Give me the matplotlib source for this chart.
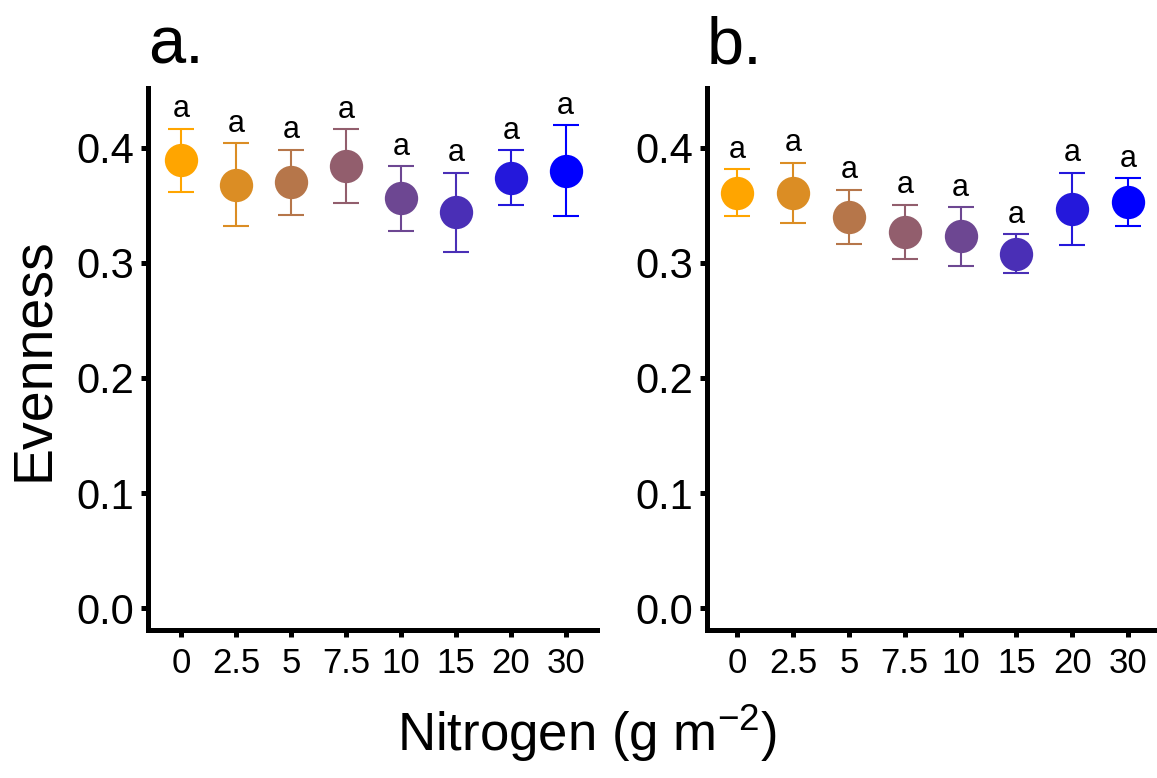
import matplotlib
matplotlib.use("Agg")
import matplotlib.pyplot as plt

plt.rcParams['font.family'] = ['Liberation Sans', 'DejaVu Sans']
plt.rcParams['mathtext.fontset'] = 'custom'
plt.rcParams['mathtext.rm'] = 'Liberation Sans'

# Nitrogen treatments (g m^-2)
nitrogen = ["0", "2.5", "5", "7.5", "10", "15", "20", "30"]
colors = ["#FFA500", "#DB8D24", "#B6764A", "#925E6D", "#6D4792", "#4A2FB6", "#2418DB", "#0000FF"]

# Panel a: mean evenness with error half-widths
mean_a = [0.389, 0.368, 0.370, 0.384, 0.356, 0.344, 0.374, 0.380]
err_a = [0.0275, 0.036, 0.0285, 0.032, 0.028, 0.0345, 0.024, 0.0395]
# Panel b
mean_b = [0.361, 0.361, 0.340, 0.327, 0.323, 0.308, 0.347, 0.353]
err_b = [0.0205, 0.026, 0.0235, 0.0235, 0.0255, 0.017, 0.0315, 0.0205]
# Significance letters
letters_a = ["a"] * 8
letters_b = ["a"] * 8

yticks = [0.0, 0.1, 0.2, 0.3, 0.4]

fig = plt.figure(figsize=(11.57, 7.78), dpi=100)
ax_a = fig.add_axes([0.1279, 0.1902, 0.3881, 0.6967])
ax_b = fig.add_axes([0.6108, 0.1902, 0.3892, 0.6967])


def draw_panel(ax, means, errs, letters, title, xlim):
    xs = list(range(1, len(nitrogen) + 1))
    for x, m, e, c, lab in zip(xs, means, errs, colors, letters):
        _, caps, bars = ax.errorbar(x, m, yerr=e, fmt='none', ecolor=c,
                                    elinewidth=1.5, capsize=9.5, capthick=1.5)
        ax.plot([x], [m], 'o', color=c, markersize=24, markeredgewidth=0, zorder=3)
        ax.text(x, m + e + 0.010, lab, ha='center', va='baseline', fontsize=22)
    ax.set_xlim(*xlim)
    ax.set_ylim(-0.019, 0.452)
    ax.set_xticks(xs)
    ax.set_xticklabels(nitrogen)
    ax.set_yticks(yticks)
    ax.set_yticklabels([f"{v:.1f}" for v in yticks])
    for s in ['top', 'right']:
        ax.spines[s].set_visible(False)
    for s in ['left', 'bottom']:
        ax.spines[s].set_linewidth(3.6)
        ax.spines[s].set_capstyle('projecting')
    ax.tick_params(axis='y', labelsize=30, length=5, width=3.6, pad=5, colors='black')
    ax.tick_params(axis='x', labelsize=25, length=5, width=3.6, pad=7, colors='black')
    ax.text(0.0, 1.045, title, transform=ax.transAxes, ha='left', va='baseline',
            fontsize=48)


draw_panel(ax_a, mean_a, err_a, letters_a, "a.", (0.39, 8.57))
draw_panel(ax_b, mean_b, err_b, letters_b, "b.", (0.45, 8.52))

ax_a.set_ylabel("Evenness", fontsize=40, labelpad=12)
fig.text(0.507, 0.035, r"Nitrogen (g m$^{-2}$)", ha='center', va='baseline', fontsize=38)

fig.savefig("out.png", dpi=100)
